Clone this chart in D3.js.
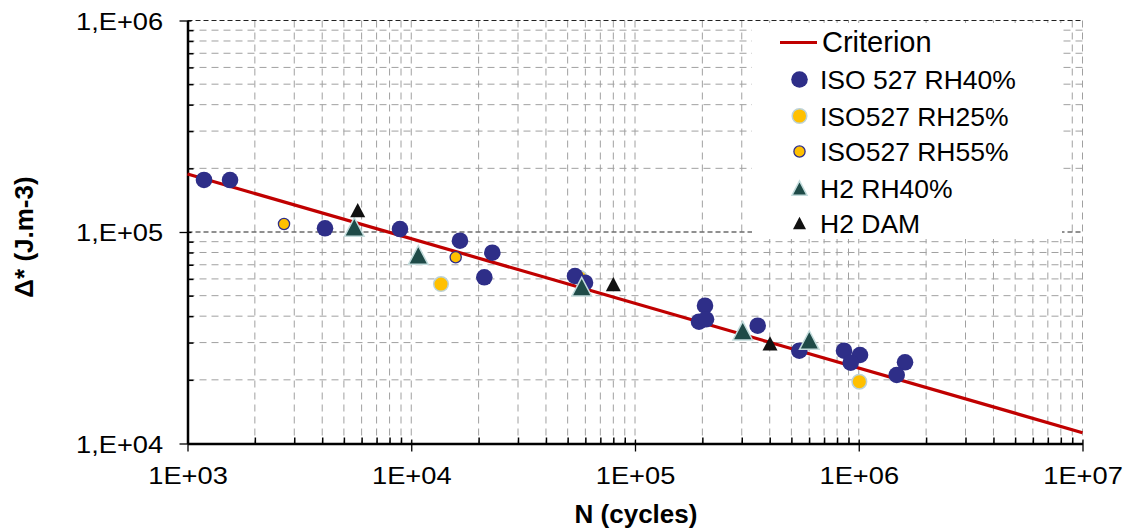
<!DOCTYPE html>
<html><head><meta charset="utf-8">
<script src="https://cdn.jsdelivr.net/npm/d3@7"></script>
<style>
html,body{margin:0;padding:0;background:#fff;}
text{font-family:"Liberation Sans",Arial,sans-serif;fill:#000;}
</style></head>
<body>
<svg id="c" width="1130" height="528"></svg>
<script>
// ---- data ----
const xTickValues = [1e3, 1e4, 1e5, 1e6, 1e7];
const xTickLabels = ["1E+03", "1E+04", "1E+05", "1E+06", "1E+07"];
const yTickValues = [1e4, 1e5, 1e6];
const yTickLabels = ["1,E+04", "1,E+05", "1,E+06"];

const critN = [1e3, 1e7];
const critD = [188000, 11250];

const iso40N = [1185, 1549, 4117, 8905, 16510, 23030, 21210, 53930, 59780, 205500, 193200, 207700, 353500, 542400, 859300, 1013000, 920500, 1610000, 1478000];
const iso40D = [176200, 176000, 104100, 103300, 90960, 79800, 61060, 61940, 57560, 44830, 37650, 38650, 36060, 27470, 27470, 26210, 24100, 24210, 21080];

const rh25N = [13580, 56790, 1006000];
const rh25D = [56760, 60600, 19600];

const rh55N = [2700, 15800];
const rh55D = [109100, 75920];

const h2N = [5566, 10750, 57790, 302900, 601200];
const h2D = [105600, 77870, 55120, 34140, 30850];

const damN = [5764, 80000, 401300];
const damD = [127000, 56760, 29770];

const legendLabels = ["Criterion", "ISO 527 RH40%", "ISO527 RH25%", "ISO527 RH55%", "H2 RH40%", "H2 DAM"];

// ---- chart ----
const svg = d3.select("#c");
const L = 187.5, R = 1082.5, T = 20.5, B = 443.5;
const x = d3.scaleLog().domain([1e3, 1e7]).range([L, R]);
const y = d3.scaleLog().domain([1e4, 1e6]).range([B, T]);

function minors(lo, hi) {
  const out = [];
  for (let e = lo; e < hi; e++) for (let m = 2; m <= 9; m++) out.push(m * Math.pow(10, e));
  return out;
}
const xMinor = minors(3, 7);
const yMinor = minors(4, 6);

const grid = svg.append("g");
grid.selectAll("line.vx").data(xMinor.concat([1e4, 1e5, 1e6, 1e7])).join("line")
  .attr("x1", d => x(d)).attr("x2", d => x(d)).attr("y1", T).attr("y2", B)
  .attr("stroke", "#a0a0a0").attr("stroke-width", 1).attr("stroke-dasharray", "7,5");
grid.selectAll("line.hy").data(yMinor).join("line")
  .attr("x1", L).attr("x2", R).attr("y1", d => y(d)).attr("y2", d => y(d))
  .attr("stroke", "#a0a0a0").attr("stroke-width", 1).attr("stroke-dasharray", "7,5");
grid.selectAll("line.hM").data([1e5, 1e6]).join("line")
  .attr("x1", L).attr("x2", R).attr("y1", d => y(d)).attr("y2", d => y(d))
  .attr("stroke", "#222").attr("stroke-width", 1.2).attr("stroke-dasharray", "5,3");

// legend background (covers grid)
svg.append("rect").attr("x", 752).attr("y", 23).attr("width", 310).attr("height", 216).attr("fill", "#fff");

// axes
const xMinAx = svg.append("g").attr("transform", `translate(0,${B})`)
  .call(d3.axisBottom(x).tickValues(xMinor).tickSize(-6).tickFormat(""));
xMinAx.select(".domain").remove();
xMinAx.selectAll("line").attr("stroke", "#000").attr("stroke-width", 1.5);

const yMinAx = svg.append("g").attr("transform", `translate(${L},0)`)
  .call(d3.axisLeft(y).tickValues(yMinor).tickSize(-6).tickFormat(""));
yMinAx.select(".domain").remove();
yMinAx.selectAll("line").attr("stroke", "#000").attr("stroke-width", 1.5);

const xAx = svg.append("g").attr("transform", `translate(0,${B})`)
  .call(d3.axisBottom(x).tickValues(xTickValues).tickSizeOuter(0).tickFormat((d, i) => xTickLabels[i]));
xAx.select(".domain").attr("stroke", "#000").attr("stroke-width", 2.5);
xAx.selectAll(".tick line").attr("y1", -4).attr("y2", 8).attr("stroke", "#000").attr("stroke-width", 1.3);
xAx.selectAll(".tick text").attr("y", 41).attr("dy", null)
  .style("font-size", "23.5px").style("font-family", "Liberation Sans, Arial, sans-serif")
  .attr("fill", "#000").attr("transform", "scale(1.16,1)");

const yAx = svg.append("g").attr("transform", `translate(${L},0)`)
  .call(d3.axisLeft(y).tickValues(yTickValues).tickSizeOuter(0).tickFormat((d, i) => yTickLabels[i]));
yAx.select(".domain").attr("stroke", "#000").attr("stroke-width", 2.5);
yAx.selectAll(".tick line").attr("x1", -8).attr("x2", 4).attr("stroke", "#000").attr("stroke-width", 1.3);
yAx.selectAll(".tick text").attr("x", -21).attr("dy", "8.5")
  .style("font-size", "23.5px").style("font-family", "Liberation Sans, Arial, sans-serif")
  .attr("fill", "#000").attr("transform", "scale(1.16,1)");

// axis titles
svg.append("text").attr("transform", "translate(636,523)")
  .attr("text-anchor", "middle").style("font-size", "26px").style("font-weight", "bold").text("N (cycles)");
svg.append("text").attr("transform", "translate(33,237) rotate(-90)")
  .attr("text-anchor", "middle").style("font-size", "26px").style("font-weight", "bold").text("Δ* (J.m-3)");

// criterion line
const line = d3.line().x(d => x(d[0])).y(d => y(d[1]));
svg.append("path").datum(critN.map((n, i) => [n, critD[i]])).attr("d", line)
  .attr("fill", "none").attr("stroke", "#c00000").attr("stroke-width", 3.2);

// markers
function tri(s) { const h = s * 0.95; return `M0,${-h/2}L${s/2},${h/2}L${-s/2},${h/2}Z`; }
const styles = {
  iso40: {shape: "c", r: 8.3, fill: "#2e2e88", stroke: "#2e2e88", sw: 0},
  rh25: {shape: "c", r: 7.3, fill: "#ffc000", stroke: "#bcd2d8", sw: 1.5},
  rh55: {shape: "c", r: 5.6, fill: "#ffc000", stroke: "#2e2e88", sw: 1.3},
  h2: {shape: "t", s: 19.5, fill: "#1f4b48", stroke: "#c3dcdc", sw: 1.5},
  dam: {shape: "t", s: 15, fill: "#111", stroke: "#111", sw: 0}
};
function drawSeries(N, D, st) {
  const g = svg.append("g");
  const pts = N.map((n, i) => [n, D[i]]);
  if (st.shape === "c") {
    g.selectAll("circle").data(pts).join("circle")
      .attr("cx", d => x(d[0])).attr("cy", d => y(d[1])).attr("r", st.r)
      .attr("fill", st.fill).attr("stroke", st.stroke).attr("stroke-width", st.sw);
  } else {
    g.selectAll("path").data(pts).join("path")
      .attr("transform", d => `translate(${x(d[0])},${y(d[1])})`).attr("d", tri(st.s))
      .attr("fill", st.fill).attr("stroke", st.stroke).attr("stroke-width", st.sw);
  }
}
drawSeries(rh25N, rh25D, styles.rh25);
drawSeries(iso40N, iso40D, styles.iso40);
drawSeries(rh55N, rh55D, styles.rh55);
drawSeries(h2N, h2D, styles.h2);
drawSeries(damN, damD, styles.dam);

// legend
const lg = svg.append("g");
lg.append("line").attr("x1", 780).attr("x2", 817).attr("y1", 42.5).attr("y2", 42.5)
  .attr("stroke", "#c00000").attr("stroke-width", 3.2);
lg.append("text").attr("x", 822).attr("y", 52).style("font-size", "29px").text(legendLabels[0]);
const keys = ["iso40", "rh25", "rh55", "h2", "dam"];
const rowY = [79.5, 116, 151.5, 188, 223];
keys.forEach((k, i) => {
  const st = styles[k];
  if (st.shape === "c") {
    lg.append("circle").attr("cx", 799.5).attr("cy", rowY[i]).attr("r", st.r)
      .attr("fill", st.fill).attr("stroke", st.stroke).attr("stroke-width", st.sw);
  } else {
    lg.append("path").attr("transform", `translate(799.5,${rowY[i]})`).attr("d", tri(k === "h2" ? 15 : 13))
      .attr("fill", st.fill).attr("stroke", st.stroke).attr("stroke-width", st.sw);
  }
  lg.append("text").attr("x", 820).attr("y", rowY[i] + 9.5).style("font-size", "26.5px").text(legendLabels[i + 1]);
});
</script>
</body></html>
